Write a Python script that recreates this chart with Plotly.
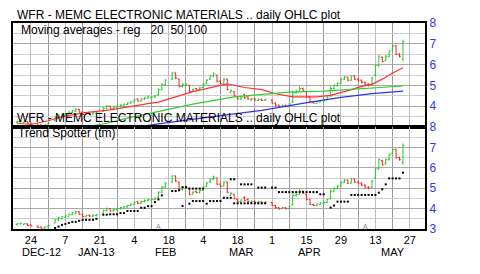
import pandas as pd
import plotly.graph_objects as go
from plotly.subplots import make_subplots

# ---------------- data ----------------
holidays = ['2012-12-25', '2013-01-01', '2013-01-21', '2013-02-18', '2013-03-29']
dates = pd.bdate_range('2012-12-18', '2013-05-23', freq='C', holidays=holidays)

opens = [3.22, 3.25, 3.22, 3.25, 3.20, 3.15, 3.10, 3.05, 3.10,
         3.30, 3.45, 3.50, 3.58, 3.62, 3.70, 3.75, 3.85, 3.72, 3.60, 3.68, 3.63, 3.66,
         3.75, 3.90, 4.00, 3.88, 3.95, 4.00, 4.02, 4.08,
         4.15, 4.20, 4.35, 4.25, 4.35, 4.38, 4.42, 4.45, 4.55, 4.80, 5.05, 5.30, 5.60, 5.30, 4.95, 5.00, 5.00, 4.70, 4.85,
         4.78, 4.90, 5.10, 5.30, 5.45, 5.50, 5.20, 5.10, 5.30, 4.65, 4.70, 4.45, 4.35, 4.55, 4.45, 4.30, 4.35, 4.28, 4.33, 4.28,
         4.30, 4.15, 4.05, 4.00, 4.05, 4.00, 4.20, 4.65, 4.70, 4.85, 4.70, 4.45, 4.20, 4.15, 4.20, 4.25, 4.30, 4.50, 4.85, 4.98, 5.10, 5.30,
         5.40, 5.25, 5.45, 5.30, 5.25, 5.15, 5.05, 5.05, 5.50, 5.95, 6.35, 6.20, 6.40, 6.70, 6.90, 6.50, 6.25]
highs = [3.30, 3.32, 3.30, 3.27, 3.22, 3.17, 3.12, 3.12, 3.20,
         3.50, 3.60, 3.62, 3.70, 3.75, 3.82, 3.90, 3.88, 3.75, 3.70, 3.70, 3.72, 3.72,
         3.95, 4.05, 4.02, 3.98, 4.05, 4.08, 4.12, 4.18,
         4.25, 4.35, 4.38, 4.40, 4.45, 4.50, 4.50, 4.55, 4.85, 5.10, 5.30, 5.65, 5.62, 5.32, 5.10, 5.10, 5.02, 4.85, 4.88,
         4.92, 5.10, 5.30, 5.50, 5.62, 5.52, 5.25, 5.35, 5.32, 4.80, 4.72, 4.48, 4.45, 4.60, 4.50, 4.40, 4.40, 4.38, 4.36, 4.35,
         4.32, 4.18, 4.08, 4.08, 4.07, 4.15, 4.75, 4.80, 4.95, 4.90, 4.72, 4.48, 4.25, 4.25, 4.30, 4.35, 4.48, 4.95, 5.05, 5.15, 5.35, 5.45,
         5.42, 5.50, 5.50, 5.35, 5.28, 5.20, 5.10, 5.40, 6.00, 6.45, 6.40, 6.45, 6.70, 6.95, 6.95, 6.55, 7.20]
lows = [3.18, 3.22, 3.20, 3.15, 3.13, 3.05, 3.00, 3.02, 3.08,
        3.28, 3.40, 3.48, 3.55, 3.60, 3.68, 3.72, 3.70, 3.58, 3.58, 3.60, 3.60, 3.62,
        3.72, 3.85, 3.85, 3.85, 3.92, 3.95, 4.00, 4.05,
        4.12, 4.18, 4.22, 4.22, 4.30, 4.35, 4.38, 4.40, 4.50, 4.75, 5.00, 5.25, 5.30, 4.90, 4.90, 4.95, 4.65, 4.68, 4.75,
        4.75, 4.88, 5.05, 5.25, 5.40, 5.15, 5.05, 5.08, 4.75, 4.62, 4.45, 4.32, 4.30, 4.35, 4.30, 4.28, 4.28, 4.25, 4.25, 4.25,
        4.12, 4.00, 3.95, 3.98, 3.95, 3.98, 4.15, 4.60, 4.68, 4.72, 4.40, 4.18, 4.12, 4.12, 4.18, 4.22, 4.28, 4.45, 4.80, 4.95, 5.05, 5.25,
        5.20, 5.22, 5.25, 5.20, 5.10, 5.00, 4.95, 5.00, 5.45, 5.90, 6.10, 6.15, 6.35, 6.65, 6.45, 6.35, 6.15]
closes = [3.27, 3.28, 3.27, 3.18, 3.15, 3.07, 3.03, 3.10, 3.18,
          3.45, 3.55, 3.60, 3.65, 3.72, 3.80, 3.85, 3.72, 3.60, 3.66, 3.63, 3.68, 3.70,
          3.90, 4.00, 3.88, 3.95, 4.00, 4.05, 4.10, 4.15,
          4.22, 4.30, 4.25, 4.35, 4.40, 4.45, 4.45, 4.50, 4.80, 5.05, 5.25, 5.60, 5.35, 4.95, 5.05, 5.05, 4.70, 4.80, 4.78,
          4.88, 5.05, 5.25, 5.45, 5.55, 5.20, 5.10, 5.30, 4.80, 4.75, 4.50, 4.35, 4.42, 4.40, 4.35, 4.35, 4.30, 4.33, 4.28, 4.32,
          4.15, 4.05, 4.00, 4.05, 4.00, 4.10, 4.65, 4.70, 4.85, 4.75, 4.45, 4.20, 4.15, 4.22, 4.28, 4.30, 4.45, 4.85, 5.00, 5.10, 5.30, 5.40,
          5.25, 5.45, 5.30, 5.25, 5.15, 5.05, 5.00, 5.35, 5.95, 6.40, 6.15, 6.40, 6.65, 6.90, 6.50, 6.40, 7.10]

N = None
trend_main = [N, N, N, N, N, N, N, N, N,
              3.05, 3.12, 3.20, 3.25, 3.30, 3.35, 3.35, 3.40, 3.45, 3.45, 3.45, 3.45, 3.50,
              3.70, 3.70, 3.72, 3.72, 3.72, 3.78, 3.78, 3.88,
              3.88, 3.88, 3.88, 4.04, 4.04, 4.12, 4.12, 4.32, 4.45, 4.65, N, 4.86, 4.86, 4.90, 5.05, 5.05, 4.98, 4.98, 4.98,
              4.98, 4.98, N, N, N, N, N, N, N, 5.44, 5.44, N, 5.19, 5.19, 5.19, 5.19, N, 5.03, 5.03, 5.03,
              5.03, 5.03, 4.81, 4.81, 4.81, 4.81, 4.81, 4.81, 4.81, 4.81, 4.81, 4.81, 4.81, 4.81, 4.70, 4.70, N, 4.05, 4.15, 4.34, 4.34, 4.34,
              4.34, 4.67, 4.67, 4.67, 4.67, 4.67, 4.67, 4.67, 4.67, 4.78, 4.95, 5.19, 5.48, 5.48, 5.48, 5.48, 5.76]
trend_alt = [N, N, N, N, N, N, N, N, N,
             N, N, N, N, N, N, N, N, N, N, N, N, N,
             N, N, N, N, N, N, N, N,
             N, N, N, N, N, N, N, N, N, N, N, N, N, N, 4.13, N, 4.24, 4.37, 4.37,
             4.37, 4.37, 4.24, 4.37, 4.37, 4.37, 4.37, 4.53, 4.53, 4.53, 4.26, 4.26, 4.26, 4.26, 4.26, 4.26, 4.26, 4.26, 4.26, 4.26,
             N, N, N, N, N, N, N, N, N, N, N, N, N, N, N, N, N, N, N, N, N, N,
             N, N, N, N, N, N, N, N, N, N, N, N, N, N, N, N, N]

ma20_dates = ['2012-12-18', '2012-12-24', '2012-12-31', '2013-01-03', '2013-01-14', '2013-01-24',
              '2013-02-08', '2013-02-13', '2013-02-27', '2013-03-13', '2013-03-20', '2013-03-27',
              '2013-04-02', '2013-04-09', '2013-04-18', '2013-04-24', '2013-05-01', '2013-05-07',
              '2013-05-10', '2013-05-15', '2013-05-20', '2013-05-23']
ma20 = [3.18, 3.12, 3.30, 3.45, 3.68, 3.82, 4.12, 4.20, 4.70, 5.07, 4.90, 4.80,
        4.60, 4.45, 4.45, 4.52, 4.75, 4.95, 5.05, 5.30, 5.60, 5.85]
ma50_dates = ['2013-01-08', '2013-01-23', '2013-01-31', '2013-02-13', '2013-02-27', '2013-03-15',
              '2013-03-27', '2013-04-08', '2013-04-22', '2013-05-07', '2013-05-23']
ma50 = [2.85, 3.18, 3.43, 3.75, 4.10, 4.45, 4.58, 4.68, 4.72, 4.85, 4.97]
ma100_dates = ['2013-02-01', '2013-02-13', '2013-03-11', '2013-03-27', '2013-04-16', '2013-04-29',
               '2013-05-10', '2013-05-23']
ma100 = [2.95, 3.15, 3.55, 3.80, 4.20, 4.42, 4.60, 4.72]

tick_dates = ['2012-12-24', '2013-01-07', '2013-01-21', '2013-02-04', '2013-02-18', '2013-03-04',
              '2013-03-18', '2013-04-01', '2013-04-15', '2013-04-29', '2013-05-13', '2013-05-27']
tick_text = ['24', '7', '21', '4', '18', '4', '18', '1', '15', '29', '13', '27']
minor_dates = ['2012-12-31', '2013-01-14', '2013-01-28', '2013-02-11', '2013-02-25', '2013-03-11',
               '2013-03-25', '2013-04-08', '2013-04-22', '2013-05-06', '2013-05-20']
month_dates = ['2012-12-27', '2013-01-18', '2013-02-15', '2013-03-19', '2013-04-16', '2013-05-20']
month_text = ['DEC-12', 'JAN-13', 'FEB', 'MAR', 'APR', 'MAY']
event_dates = ['2013-02-13', '2013-05-08']
event_text = ['A', 'A']

title_text = 'WFR - MEMC ELECTRONIC MATERIALS .. daily OHLC plot'

# ---------------- figure ----------------
FONT = 'Liberation Sans, Arial, sans-serif'
UP, DOWN = '#22cc22', '#ff2222'

fig = make_subplots(rows=2, cols=1, shared_xaxes=True, vertical_spacing=0)

for r in (1, 2):
    fig.add_trace(go.Ohlc(x=dates, open=opens, high=highs, low=lows, close=closes,
                          increasing=dict(line=dict(color=UP, width=1)),
                          decreasing=dict(line=dict(color=DOWN, width=1)),
                          tickwidth=0.4, showlegend=False, hoverinfo='skip'), row=r, col=1)

fig.add_trace(go.Scatter(x=ma20_dates, y=ma20, mode='lines', line=dict(color='#ff3333', width=1.2),
                         showlegend=False), row=1, col=1)
fig.add_trace(go.Scatter(x=ma50_dates, y=ma50, mode='lines', line=dict(color='#33cc33', width=1.2),
                         showlegend=False), row=1, col=1)
fig.add_trace(go.Scatter(x=ma100_dates, y=ma100, mode='lines', line=dict(color='#3333ee', width=1.2),
                         showlegend=False), row=1, col=1)

for ts in (trend_main, trend_alt):
    fig.add_trace(go.Scatter(x=dates, y=ts, mode='markers',
                             marker=dict(color='black', size=2, symbol='square', line=dict(width=0)),
                             showlegend=False), row=2, col=1)

top_px, mid_px, bot_px = 23, 127, 229
H = 274
L, R = 13, 425
span = bot_px - top_px

fig.update_layout(
    width=480, height=274,
    margin=dict(l=L, r=480 - R, t=top_px, b=H - bot_px),
    paper_bgcolor='white', plot_bgcolor='white',
    font=dict(family=FONT, size=11, color='black'),
    showlegend=False,
)
fig.update_layout(
    yaxis=dict(domain=[(bot_px - mid_px) / span, 1]),
    yaxis2=dict(domain=[0, (bot_px - mid_px) / span]),
)

xcommon = dict(
    type='date',
    range=['2012-12-14 18:43', '2013-05-31 09:36'],
    rangebreaks=[dict(bounds=['sat', 'mon'])],
    rangeslider=dict(visible=False),
    tickmode='array', tickvals=tick_dates, ticktext=tick_text,
    showgrid=True, gridcolor='#bdbdbd', gridwidth=1,
    minor=dict(tickvals=minor_dates, showgrid=True, gridcolor='#9a9a9a', gridwidth=1, ticks=''),
    showline=True, linecolor='black', linewidth=2, mirror=True,
    ticks='', zeroline=False,
)
fig.update_xaxes(**xcommon)
fig.update_xaxes(showticklabels=False, row=1, col=1)
fig.update_xaxes(showticklabels=True, tickfont=dict(size=11, color='black', family=FONT), row=2, col=1)

ycommon = dict(
    range=[3, 8], side='right',
    showgrid=True, gridcolor='#a8a8a8', gridwidth=1, dtick=1,
    minor=dict(dtick=0.5, showgrid=True, gridcolor='#cfcfcf', gridwidth=1),
    showline=True, linecolor='black', linewidth=2, mirror=True,
    ticks='', zeroline=False,
    tickfont=dict(size=12, color='#3333ff', family=FONT),
)
fig.update_yaxes(**ycommon)
fig.update_yaxes(tickmode='array', tickvals=[4, 5, 6, 7, 8], row=1, col=1)
fig.update_yaxes(tickmode='array', tickvals=[3, 4, 5, 6, 7, 8], row=2, col=1)


def py(px):
    return (bot_px - px) / span


def pxx(px):
    return (px - L) / (R - L)


ann = []
ann.append(dict(text=title_text, xref='paper', yref='paper', x=pxx(15), y=py(15),
                xanchor='left', yanchor='middle', showarrow=False, font=dict(size=12)))
ann.append(dict(text='Moving averages - reg\u00a0\u00a0\u00a020\u00a0\u00a050\u00a0100', xref='paper', yref='paper',
                x=pxx(19), y=py(30), xanchor='left', yanchor='middle', showarrow=False, font=dict(size=12)))
ann.append(dict(text=title_text, xref='paper', yref='paper', x=pxx(15), y=py(118),
                xanchor='left', yanchor='middle', showarrow=False, font=dict(size=12)))
ann.append(dict(text='Trend Spotter (tm)', xref='paper', yref='paper', x=pxx(16), y=py(133),
                xanchor='left', yanchor='middle', showarrow=False, font=dict(size=12)))
for d, t in zip(month_dates, month_text):
    ann.append(dict(text=t, xref='x2', yref='paper', x=d, y=py(252), xanchor='center', yanchor='middle',
                    showarrow=False, font=dict(size=11)))
for d, t in zip(event_dates, event_text):
    ann.append(dict(text=t, xref='x2', yref='y2', x=d, y=3.1, xanchor='center', yanchor='middle',
                    showarrow=False, font=dict(size=7, color='#888888')))
fig.update_layout(annotations=ann)

fig.write_html('out.html', config={'displayModeBar': False})
